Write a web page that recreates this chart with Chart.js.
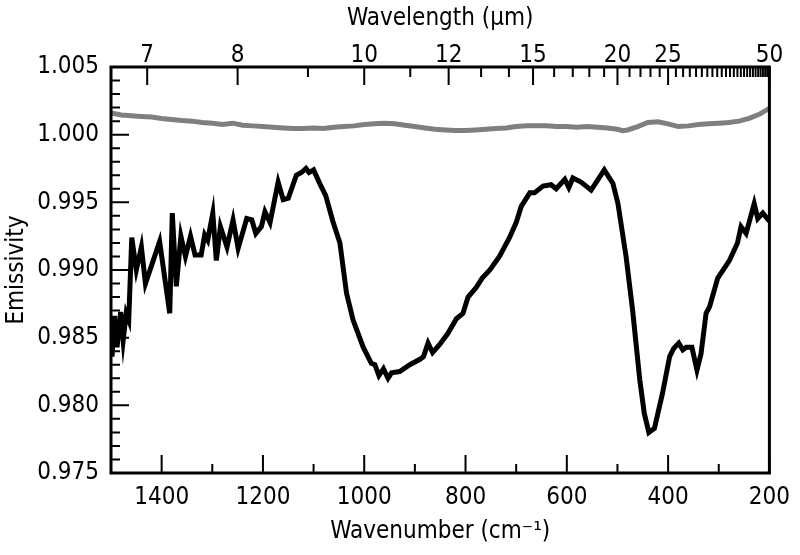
<!DOCTYPE html>
<html>
<head>
<meta charset="utf-8">
<script src="https://cdn.jsdelivr.net/npm/chart.js@4.4.1/dist/chart.umd.min.js"></script>
<style>
  html, body { margin: 0; padding: 0; background: #fff; }
  #wrap { width: 800px; height: 555px; }
</style>
</head>
<body>
<div id="wrap"><canvas id="emisChart" width="800" height="555"></canvas></div>
<script>
// black spectrum (wavenumber cm-1, emissivity)
const blackWn = [1500, 1498, 1493, 1488, 1481, 1476, 1470, 1465, 1459, 1450, 1440, 1432, 1404, 1384, 1379, 1371,
  1362, 1353, 1343, 1334, 1322, 1315, 1309, 1299, 1292, 1284, 1271, 1259, 1249, 1232, 1222, 1214, 1203, 1196,
  1186, 1170, 1160, 1150, 1134, 1124, 1115, 1109, 1100, 1088, 1076, 1062, 1048, 1035, 1022, 1002, 986, 979,
  971, 962, 953, 946, 930, 910, 890, 883, 874, 865, 851, 835, 818, 805, 795, 779, 767, 752, 733, 713, 700,
  690, 673, 664, 647, 631, 621, 604, 596, 588, 572, 552, 526, 509, 499, 483, 470, 456, 447, 438, 427, 411,
  397, 389, 379, 371, 364, 353, 343, 335, 325, 318, 302, 279, 263, 256, 246, 230, 223, 213, 200];
const blackVal = [0.9845, 0.9836, 0.9866, 0.9843, 0.9869, 0.9848, 0.9868, 0.9863, 0.9924, 0.9900, 0.9917, 0.9890,
  0.9921, 0.9868, 0.9942, 0.9888, 0.9925, 0.9910, 0.9925, 0.9911, 0.9911, 0.9926, 0.9922, 0.9942, 0.9907,
  0.9932, 0.9917, 0.9937, 0.9916, 0.9938, 0.9937, 0.9927, 0.9932, 0.9943, 0.9935, 0.9965, 0.9952, 0.9953,
  0.9970, 0.9972, 0.9975, 0.9972, 0.9974, 0.9964, 0.9955, 0.9936, 0.9920, 0.9883, 0.9863, 0.9843, 0.9831,
  0.9830, 0.9822, 0.9827, 0.9820, 0.9824, 0.9825, 0.9830, 0.9834, 0.9836, 0.9846, 0.9839, 0.9845, 0.9853,
  0.9864, 0.9868, 0.9880, 0.9887, 0.9894, 0.9900, 0.9910, 0.9924, 0.9935, 0.9947, 0.9957, 0.9957, 0.9962,
  0.9963, 0.9960, 0.9967, 0.9961, 0.9968, 0.9965, 0.9959, 0.9974, 0.9964, 0.9949, 0.9910, 0.9870, 0.9819,
  0.9794, 0.9780, 0.9783, 0.9809, 0.9836, 0.9842, 0.9846, 0.9841, 0.9843, 0.9843, 0.9826, 0.9838, 0.9868,
  0.9873, 0.9894, 0.9907, 0.9920, 0.9932, 0.9927, 0.9949, 0.9938, 0.9942, 0.9936];

// grey reference curve
const greyWn = [1500, 1480, 1460, 1440, 1420, 1400, 1380, 1360, 1340, 1320, 1300, 1280, 1260, 1240, 1220, 1200,
  1180, 1160, 1140, 1120, 1100, 1080, 1060, 1040, 1020, 1000, 980, 960, 940, 920, 900, 880, 860, 840, 820,
  800, 780, 760, 740, 720, 700, 680, 660, 640, 620, 600, 580, 560, 540, 520, 500, 490, 480, 460, 440, 420,
  400, 380, 360, 340, 320, 300, 280, 260, 240, 220, 200];
const greyVal = [1.00160, 1.00145, 1.00140, 1.00135, 1.00130, 1.00120, 1.00112, 1.00105, 1.00100, 1.00090,
  1.00085, 1.00075, 1.00085, 1.00070, 1.00065, 1.00060, 1.00055, 1.00050, 1.00045, 1.00045, 1.00050, 1.00045,
  1.00055, 1.00060, 1.00065, 1.00075, 1.00080, 1.00085, 1.00080, 1.00070, 1.00060, 1.00050, 1.00040, 1.00035,
  1.00030, 1.00030, 1.00035, 1.00040, 1.00045, 1.00050, 1.00060, 1.00065, 1.00065, 1.00065, 1.00060, 1.00060,
  1.00055, 1.00060, 1.00055, 1.00050, 1.00040, 1.00030, 1.00035, 1.00060, 1.00090, 1.00095, 1.00080, 1.00060,
  1.00065, 1.00075, 1.00080, 1.00085, 1.00090, 1.00100, 1.00120, 1.00150, 1.00195];

const xMajor = [1400, 1200, 1000, 800, 600, 400, 200];
const xMinor = [1500, 1300, 1100, 900, 700, 500, 300];
const yMajor = [0.975, 0.980, 0.985, 0.990, 0.995, 1.000, 1.005];
const wlMajor = [7, 8, 10, 12, 15, 20, 25, 50];
const wlMinor = [9, 11, 13, 14, 16, 17, 18, 19, 21, 22, 23, 24, 26, 27, 28, 29, 30, 31, 32, 33, 34, 35, 36, 37,
  38, 39, 40, 41, 42, 43, 44, 45, 46, 47, 48, 49];

const FONT = "'Liberation Sans Narrow', 'Arial Narrow', 'DejaVu Sans Condensed', sans-serif";
Chart.defaults.font.family = FONT;
Chart.defaults.font.size = 24;
Chart.defaults.color = '#000';

const toPts = (xs, ys) => xs.map((x, i) => ({ x: x, y: ys[i] }));

// ticks point into the plot, so draw them here with the scales' own pixel mapping
const innerTicks = {
  id: 'innerTicks',
  afterDatasetsDraw(chart) {
    const { ctx, chartArea: a, scales } = chart;
    ctx.save();
    ctx.strokeStyle = '#000';
    ctx.lineWidth = 2;
    ctx.beginPath();
    const vtick = (px, len, fromTop) => {
      ctx.moveTo(px, fromTop ? a.top : a.bottom);
      ctx.lineTo(px, fromTop ? a.top + len : a.bottom - len);
    };
    xMajor.forEach(v => vtick(scales.x.getPixelForValue(v), 18, false));
    xMinor.forEach(v => vtick(scales.x.getPixelForValue(v), 9, false));
    wlMajor.forEach(w => vtick(scales.xTop.getPixelForValue(10000 / w), 18, true));
    wlMinor.forEach(w => vtick(scales.xTop.getPixelForValue(10000 / w), 10, true));
    for (let i = 0; i <= 30; i++) {
      const v = 0.975 + i * 0.001;
      const py = scales.y.getPixelForValue(v);
      ctx.moveTo(a.left, py);
      ctx.lineTo(a.left + (i % 5 === 0 ? 18 : 9), py);
    }
    ctx.stroke();
    ctx.lineWidth = 3;
    ctx.strokeRect(a.left, a.top, a.right - a.left, a.bottom - a.top);
    ctx.restore();
  }
};

const ctx = document.getElementById('emisChart').getContext('2d');
const emisChart = new Chart(ctx, {
  type: 'line',
  data: {
    datasets: [
      {
        label: 'grey',
        data: toPts(greyWn, greyVal),
        borderColor: '#7f7f7f',
        borderWidth: 5,
        pointRadius: 0,
        tension: 0
      },
      {
        label: 'black',
        data: toPts(blackWn, blackVal),
        borderColor: '#000',
        borderWidth: 5,
        pointRadius: 0,
        tension: 0
      }
    ]
  },
  options: {
    responsive: false,
    animation: false,
    layout: { padding: { left: 0, right: 30, top: 0, bottom: 0 } },
    plugins: { legend: { display: false }, tooltip: { enabled: false } },
    scales: {
      x: {
        type: 'linear',
        position: 'bottom',
        min: 200,
        max: 1500,
        reverse: true,
        grid: { display: false, drawTicks: false },
        border: { display: false },
        afterBuildTicks: s => { s.ticks = xMajor.map(v => ({ value: v })); },
        ticks: { padding: 10, maxRotation: 0, autoSkip: false, callback: v => String(v) },
        afterFit: s => { s.height = 82; },
        title: { display: true, text: 'Wavenumber (cm\u207B\u00B9)', padding: { top: 0, bottom: 9 } }
      },
      xTop: {
        type: 'linear',
        position: 'top',
        min: 200,
        max: 1500,
        reverse: true,
        grid: { display: false, drawTicks: false },
        border: { display: false },
        afterBuildTicks: s => { s.ticks = wlMajor.map(w => ({ value: 10000 / w })); },
        ticks: { padding: -3, maxRotation: 0, autoSkip: false, callback: v => String(Math.round(10000 / v)) },
        afterFit: s => { s.height = 67; },
        title: { display: true, text: 'Wavelength (\u00B5m)', padding: { top: 4, bottom: 0 } }
      },
      y: {
        type: 'linear',
        min: 0.975,
        max: 1.005,
        grid: { display: false, drawTicks: false },
        border: { display: false },
        afterBuildTicks: s => { s.ticks = yMajor.map(v => ({ value: v })); },
        ticks: { padding: 12, autoSkip: false, callback: v => v.toFixed(3) },
        afterFit: s => { s.width = 111; },
        title: { display: true, text: 'Emissivity', padding: { top: 2, bottom: 0 } }
      }
    }
  },
  plugins: [innerTicks]
});
</script>
</body>
</html>
